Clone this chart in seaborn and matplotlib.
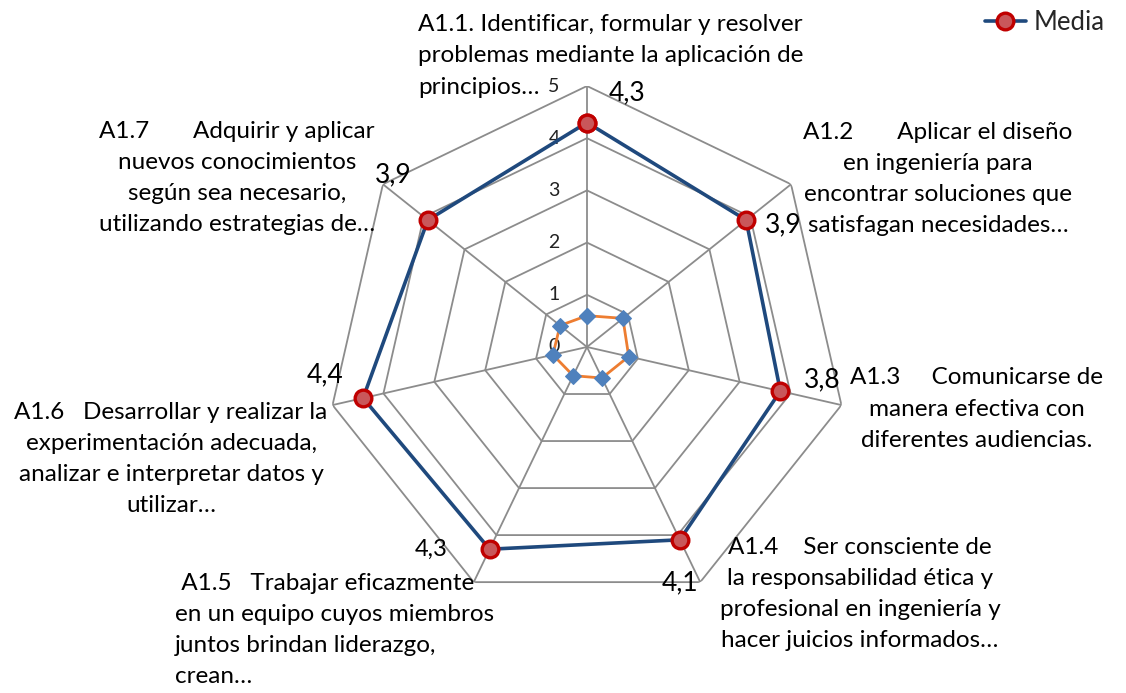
import numpy as np
import matplotlib.pyplot as plt
import seaborn as sns

categorias = [
    "A1.1. Identificar, formular y resolver\nproblemas mediante la aplicación de\nprincipios…",
    "A1.2       Aplicar el diseño\nen ingeniería para\nencontrar soluciones que\nsatisfagan necesidades…",
    "A1.3     Comunicarse de\nmanera efectiva con\ndiferentes audiencias.",
    "A1.4    Ser consciente de\nla responsabilidad ética y\nprofesional en ingeniería y\nhacer juicios informados…",
    " A1.5   Trabajar eficazmente\nen un equipo cuyos miembros\njuntos brindan liderazgo,\ncrean…",
    "A1.6   Desarrollar y realizar la\nexperimentación adecuada,\nanalizar e interpretar datos y\nutilizar…",
    "A1.7       Adquirir y aplicar\nnuevos conocimientos\nsegún sea necesario,\nutilizando estrategias de…",
]
media = [4.3, 3.9, 3.8, 4.1, 4.3, 4.4, 3.9]
desv = [0.6, 0.88, 0.82, 0.66, 0.61, 0.67, 0.66]
media_txt = ["4,3", "3,9", "3,8", "4,1", "4,3", "4,4", "3,9"]
niveles = [0, 1, 2, 3, 4, 5]

sns.set_style("white")
plt.rcParams['font.family'] = ['Lato', 'DejaVu Sans']

n = len(media)
theta = np.linspace(0, 2 * np.pi, n, endpoint=False)
theta_c = np.append(theta, 2 * np.pi)

fig = plt.figure(figsize=(11.26, 6.93), dpi=100)
ax = fig.add_axes([0.2895, 0.1227, 0.4636, 0.7532], projection='polar')
ax.set_theta_offset(np.pi / 2)
ax.set_theta_direction(-1)
ax.set_ylim(0, 5)
ax.set_axis_off()

# heptagon grid
for lv in niveles[1:]:
    ax.plot(theta_c, [lv] * (n + 1), color='#8c8c8c', lw=1.3, zorder=1)
for t in theta:
    ax.plot([t, t], [0, 5], color='#8c8c8c', lw=1.3, zorder=1)

for lv in niveles:
    ax.annotate(str(lv), xy=(0, lv), xytext=(-33, 0), textcoords='offset pixels',
                ha='center', va='center', fontsize=14, color='#222222')

sns.lineplot(x=theta_c, y=desv + desv[:1], sort=False, ax=ax, color='#ed7d31', lw=2,
             marker='D', markersize=8, markerfacecolor='#4f81bd', markeredgecolor='#4f81bd',
             zorder=3, legend=False)
sns.lineplot(x=theta_c, y=media + media[:1], sort=False, ax=ax, color='#1f497d', lw=2.6,
             marker='o', markersize=12, markerfacecolor='#c9575a', markeredgecolor='#c00000',
             markeredgewidth=2.4, zorder=4, label='Media')

# data labels
offs = [(40, 30), (37, -5), (42, 11), (0, -43), (-58, 0), (-38, 23), (-35, 45)]
for t, v, s, o in zip(theta, media, media_txt, offs):
    fs = 17 if o == (-58, 0) else 19
    ax.annotate(s, xy=(t, v), xytext=o, textcoords='offset pixels',
                ha='center', va='center', fontsize=fs, color='black', zorder=5)

# category labels (pixel positions in the figure)
W, H = 1126, 693
pos = [(418, 56, 'left'), (938, 179, 'center'), (977, 409, 'center'),
       (860, 594, 'center'), (175, 630, 'left'), (171, 459, 'center'),
       (237, 178, 'center')]
for txt, (px, py, ha) in zip(categorias, pos):
    fig.text(px / W, 1 - py / H, txt, ha=ha, va='center', multialignment=ha,
             fontsize=17.5, linespacing=1.6, color='black')

ax.legend(loc='center left', bbox_to_anchor=(972 / W, 1 - 22 / H), bbox_transform=fig.transFigure,
          frameon=False, fontsize=18.5, handlelength=1.6, handletextpad=0.3, borderpad=0)

fig.savefig('out.png', dpi=100)
